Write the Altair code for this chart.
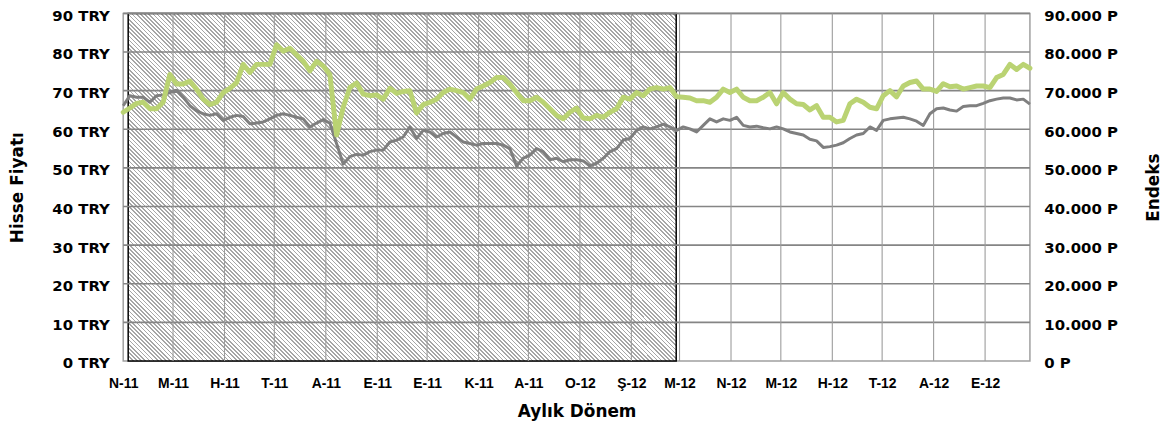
import altair as alt
import pandas as pd

# ---------------- data ----------------
month_letters = ["O", "Ş", "M", "N", "M", "H", "T", "A", "E", "E", "K", "A"]

price_try = [
    66.1, 68.7, 68.3, 68.3, 67.0, 68.7, 68.9, 69.5, 70.1, 68.3,
    66.1, 64.8, 64.0, 63.6, 64.0, 62.3, 63.1, 63.6, 63.3, 61.4,
    61.6, 61.9, 62.7, 63.6, 64.0, 63.6, 63.1, 62.7, 60.6, 61.6,
    62.5, 61.6, 56.3, 51.0, 52.9, 53.5, 53.3, 54.2, 54.6, 54.6,
    56.7, 57.2, 58.0, 60.6, 57.6, 59.7, 59.3, 58.0, 58.9, 59.3,
    58.0, 56.7, 56.3, 55.9, 56.3, 56.3, 56.3, 55.9, 55.0, 50.5,
    52.5, 53.3, 55.0, 54.2, 52.1, 52.5, 51.6, 52.1, 52.1, 51.8,
    50.5, 51.2, 52.5, 54.2, 55.0, 57.2, 57.6, 59.7, 60.6, 60.1,
    60.6, 61.3, 60.6, 59.7, 60.6, 60.1, 59.3, 61.0, 62.7, 61.9,
    62.7, 62.3, 63.1, 61.0, 60.6, 60.8, 60.4, 60.1, 60.6, 60.1,
    59.3, 58.9, 58.5, 57.4, 57.0, 55.3, 55.5, 55.9, 56.5, 57.6,
    58.5, 58.9, 60.6, 59.7, 62.3, 62.7, 62.9, 63.1, 62.7, 62.1,
    61.0, 64.0, 65.3, 65.5, 65.0, 64.7, 65.9, 66.1, 66.1, 66.7,
    67.4, 67.8, 68.1, 68.1, 67.6, 67.8, 66.5,
]

index_pts = [
    64400, 65500, 66700, 67000, 65300, 65300, 67000, 74200, 71700, 71700,
    72500, 70400, 67800, 66400, 67000, 69500, 70600, 72100, 76800, 74700,
    76800, 76800, 76800, 81900, 80200, 81000, 79300, 77600, 75100, 77600,
    76400, 74200, 58500, 65700, 70800, 72000, 69100, 68700, 68900, 67800,
    70600, 69300, 69800, 70000, 64200, 66400, 67000, 67800, 69500, 70400,
    70000, 69500, 67800, 70400, 71200, 72100, 73400, 73400, 71700, 69500,
    67400, 67400, 68300, 67000, 65300, 63600, 62700, 64400, 65500, 62900,
    62700, 63600, 63100, 64400, 65300, 68300, 67800, 69500, 68700, 70400,
    70800, 70400, 70800, 68400, 68300, 68100, 67400, 67400, 67000, 68300,
    70400, 69500, 70400, 68300, 67400, 67400, 68300, 69500, 66600, 69500,
    67800, 66600, 66400, 65000, 66100, 63100, 63100, 61900, 62300, 66600,
    67800, 67000, 65700, 65300, 68700, 70000, 68400, 71200, 72100, 72500,
    70400, 70400, 69800, 71800, 71000, 71200, 70400, 70800, 71200, 71200,
    70800, 73400, 74200, 76800, 75500, 76800, 75800,
]

left_ticks = [0, 10, 20, 30, 40, 50, 60, 70, 80, 90]
right_ticks = [0, 10000, 20000, 30000, 40000, 50000, 60000, 70000, 80000, 90000]

dates = pd.date_range("2011-04-01", "2012-09-28", periods=len(price_try))
df = pd.DataFrame({
    "date": dates.strftime("%Y-%m-%dT%H:%M:%SZ"),
    "price": price_try,
    "index": index_pts,
})

hatch_df = pd.DataFrame({"start": ["2011-04-04"], "end": ["2012-02-28"],
                         "lo": [0], "hi": [90]})
hgrid_df = pd.DataFrame({"v": left_ticks[1:]})
vgrid_df = pd.DataFrame({"m": pd.date_range("2011-05-01", "2012-09-01", freq="MS").strftime("%Y-%m-%d")})

tick_months = pd.date_range("2011-04-01", "2012-09-01", freq="MS")
tick_vals = [alt.DateTime(year=int(d.year), month=int(d.month), date=1, utc=True) for d in tick_months]

# ---------------- styles ----------------
BOLD = "DejaVu Sans"
letters_js = "[" + ",".join("'" + m + "'" for m in month_letters) + "]"
PLOT_W, PLOT_H = 913, 350

x_scale = alt.Scale(type="utc",
                    domain=[alt.DateTime(year=2011, month=4, date=1, utc=True),
                            alt.DateTime(year=2012, month=9, date=28, utc=True)])
x_axis = alt.Axis(values=tick_vals,
                  labelExpr=letters_js + "[utcmonth(datum.value)] + '-' + utcFormat(datum.value, '%y')",
                  grid=False, ticks=False, tickSize=0, domain=False,
                  labelFont="Liberation Sans", labelFontWeight="bold", labelFontSize=14,
                  labelColor="black", labelBaseline="alphabetic", labelPadding=27,
                  labelAlign="center", labelFlush=False, labelOverlap=False,
                  title="Aylık Dönem", titleFont=BOLD, titleFontSize=17, titleFontWeight="bold",
                  titleColor="black", titleBaseline="alphabetic", titleAlign="center",
                  titleX=PLOT_W / 2, titleY=56)

y_scale = alt.Scale(domain=[0, 90], nice=False)
y_axis = alt.Axis(values=left_ticks, labelExpr="datum.value + ' TRY'",
                  grid=False, ticks=False, tickSize=0, domain=False,
                  labelFont=BOLD, labelFontSize=15, labelFontWeight="bold", labelColor="black",
                  labelPadding=14, labelBaseline="alphabetic", labelOffset=7,
                  title="Hisse Fiyatı", titleFont=BOLD, titleFontSize=17, titleFontWeight="bold",
                  titleColor="black", titleAngle=270, titleBaseline="alphabetic",
                  titleAlign="center", titleX=-101, titleY=PLOT_H / 2)

r_scale = alt.Scale(domain=[0, 90000], nice=False)
r_axis = alt.Axis(orient="right", values=right_ticks,
                  labelExpr="replace(format(datum.value, ','), ',', '.') + ' P'",
                  grid=False, ticks=False, tickSize=0, domain=False,
                  labelFont=BOLD, labelFontSize=15, labelFontWeight="bold", labelColor="black",
                  labelPadding=14, labelBaseline="alphabetic", labelOffset=7, labelAlign="left",
                  title="Endeks", titleFont=BOLD, titleFontSize=17, titleFontWeight="bold",
                  titleColor="black", titleAngle=270, titleBaseline="alphabetic",
                  titleAlign="center", titleX=129, titleY=PLOT_H / 2)

# diagonal hatch as a striped linear gradient
W, H = 552.0, float(PLOT_H)
period = 4.2
n = int(round((W + H) / period))
r = H / W
s = (1 + r) / (1 + r * r)
stops = []
for i in range(n):
    a = i / n
    b = (i + 0.4) / n
    c = min((i + 1) / n, 1.0)
    stops += [alt.GradientStop(color="#a6a6a6", offset=a),
              alt.GradientStop(color="#a6a6a6", offset=b),
              alt.GradientStop(color="#ffffff", offset=b),
              alt.GradientStop(color="#ffffff", offset=c)]
hatch_fill = alt.LinearGradient(gradient="linear", stops=stops,
                                x1=0, y1=1, x2=s, y2=1 - s * r)

hatch = alt.Chart(hatch_df).mark_rect(fill=hatch_fill, stroke="black", strokeWidth=1.5).encode(
    x=alt.X("start:T", scale=x_scale, axis=x_axis),
    x2="end:T",
    y=alt.Y("lo:Q", scale=y_scale, axis=y_axis),
    y2="hi:Q",
)

hgrid = alt.Chart(hgrid_df).mark_rule(color="#858585", strokeWidth=1.6).encode(
    y=alt.Y("v:Q", scale=y_scale, axis=y_axis),
)

vgrid = alt.Chart(vgrid_df).mark_rule(color="#9c9c9c", strokeWidth=1.1).encode(
    x=alt.X("m:T", scale=x_scale, axis=x_axis),
)

price_line = alt.Chart(df).mark_line(color="#7f7f7f", strokeWidth=3, strokeJoin="round").encode(
    x=alt.X("date:T", scale=x_scale, axis=x_axis),
    y=alt.Y("price:Q", scale=y_scale, axis=y_axis),
)

index_line = alt.Chart(df).mark_line(color="#bad373", strokeWidth=5, strokeJoin="round",
                                     strokeCap="round").encode(
    x=alt.X("date:T", scale=x_scale, axis=x_axis),
    y=alt.Y("index:Q", scale=r_scale, axis=r_axis),
)

left = alt.layer(hatch, hgrid, vgrid, price_line)

chart = alt.layer(left, index_line).resolve_scale(y="independent").properties(
    width=PLOT_W, height=PLOT_H,
    autosize=alt.AutoSizeParams(type="none"),
    padding={"left": 116, "top": 4, "right": 135, "bottom": 60},
    background="white",
).configure_view(stroke="#a0a0a0", strokeWidth=1.5)

chart.save("out.html", embed_options={"renderer": "svg", "actions": False})
